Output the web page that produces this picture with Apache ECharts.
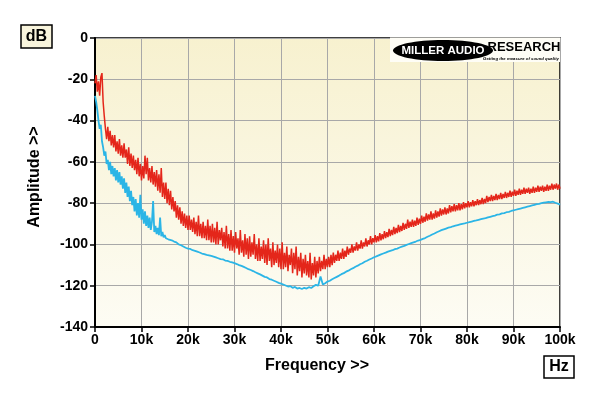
<!DOCTYPE html>
<html>
<head>
<meta charset="utf-8">
<script src="https://cdn.jsdelivr.net/npm/echarts@6/dist/echarts.min.js"></script>
<style>html,body{margin:0;padding:0;background:#fff}#c{width:600px;height:396px}</style>
</head>
<body>
<div id="c"></div>
<script>
var xTicks = ['0','10k','20k','30k','40k','50k','60k','70k','80k','90k','100k'];
var yTicks = [0,-20,-40,-60,-80,-100,-120,-140];

// red trace: 250 Hz steps from 0 Hz to 100 kHz
var redStepHz = 250;
var redValues = [
-22,-18,-26,-21,-28,-19,-17,-31,-38,
-44,-49,-43,-50, -45,-52,-47,-53, -47,-55,-50,-56, -49,-57,-52,-58,
-51,-58,-54,-61, -53,-62,-56,-63, -57,-64,-59,-66, -58,-67,-61,-69,
-62,-68,-57,-66, -58,-69,-63,-70, -62,-71,-65,-72, -64,-74,-66,-75,
-63,-77,-70,-78, -70,-80,-73,-81, -74,-83,-77,-84, -79,-87,-81,-88,
-82,-90,-84,-91, -85,-92,-86,-93, -86,-93,-88,-94, -87,-95,-89,-96,
-86,-96,-90,-97, -89,-97,-91,-98, -88,-98,-91,-99, -90,-99,-92,-100,
-89,-100,-93,-98, -92,-101,-94,-102, -91,-102,-95,-103, -93,-103,-96,-104,
-94,-102,-97,-105, -93,-104,-98,-106, -95,-105,-97,-107, -96,-106,-99,-105,
-95,-107,-100,-108, -97,-108,-101,-107, -98,-109,-100,-110, -97,-108,-102,-111,
-99,-110,-103,-109, -100,-111,-102,-112, -99,-112,-104,-111, -101,-113,-105,-110,
-102,-114,-104,-112, -101,-115,-106,-113, -104,-116,-107,-114, -105,-115,-108,-116,
-104,-117,-109,-115, -106,-116,-108,-114, -106,-113,-108,-112, -105,-112,-107,-111,
-106,-111,-105,-110, -104,-109,-105,-108, -103,-108,-104,-107, -102,-107,-103,-106,
-101,-105,-102,-104, -100,-104,-101,-103, -99,-103,-100,-102, -98,-102,-99,-101,
-97,-101,-98,-100, -96,-100,-97,-99,
-95.5,-99,-96,-98.5, -94.5,-98,-95,-97.5, -93.5,-97,-94,-96.5, -92.5,-96,-93,-95.5,
-91.5,-95,-92,-94.5, -90.5,-94,-91,-93.5, -89.5,-93,-90,-92.5, -88,-92,-89,-91.5,
-88,-91.5,-88.5,-91, -87,-90.5,-87.5,-90,
-86,-89.5,-86.5,-89, -85,-88.5,-85.5,-88, -84,-88,-85,-87.5, -83.5,-87,-84,-86.5,
-82.5,-86,-83,-85.5, -82,-85.5,-82.5,-85, -81,-84.5,-81.5,-84, -80.5,-84,-81,-83.5,
-80,-83.5,-80.5,-83, -79.5,-82.5,-80,-82,
-79,-82,-79.5,-81.5, -78.5,-81.5,-79,-81, -78,-81,-78.5,-80.5, -77.5,-80.5,-78,-80,
-76.5,-79.5,-77,-79, -76,-79,-76.5,-78.5, -75.5,-78.5,-76,-78, -75,-78,-75.5,-77.5,
-74.5,-77.5,-75,-77, -74,-77,-74.5,-76.5,
-73.5,-76.5,-74,-76, -73,-76,-73.5,-75.5, -72.5,-75.5,-73,-75, -72.5,-75.5,-73,-75,
-72,-75,-72.5,-74.5, -71.5,-74.5,-72,-74, -71.5,-74.5,-72,-74, -71,-74,-71.5,-73.5,
-70.5,-73.5,-71,-73, -70.5,-73.5,-71,-73
];

// blue trace, low part: 250 Hz steps from 0 Hz to 16 kHz
var blueLowStepHz = 250;
var blueLowValues = [
-28,-31,-35,-40,-44,-42,-50,-53,-57,-55,-61,-59,-64,-60,-66,-62,
-67,-63,-69,-64,-70,-65,-71,-67,-73,-68,-75,-70,-77,-72,-79,-74,
-81,-77,-84,-78,-86,-80,-87,-76,-88,-83,-90,-84,-91,-86,-92,-87,
-93,-89,-79,-94,-91,-95,-92,-95.5,-87,-96,-94,-96.5,-95.5,-97,-96.5,-97.5,
-97.5
];
// blue trace, high part: 500 Hz steps from 16.5 kHz to 100 kHz
var blueHighStartHz = 16500;
var blueHighStepHz = 500;
var blueHighValues = [
-98,-98.6,-99,-100,-100.4,-101,-101.6,
-102,-102.2,-102.8,-103.1,-103.5,-103.9,-104.4,-104.7,-105.1,-105.3,
-105.6,-105.9,-106.3,-106.7,-107.1,-107.2,-107.8,-108,-108.4,-108.7,
-109.1,-109.5,-110,-110.4,-110.9,-111.4,-112,-112.4,-112.9,-113.5,
-114,-114.5,-115.1,-115.7,-116,-116.8,-117.1,-117.6,-118.1,-118.6,
-119,-119.4,-119.9,-120.4,-120.2,-121,-120.6,-121.4,-121.1,-121.6,
-121,-121.4,-120.7,-121.1,-120.3,-119.6,-120,-115.5,-119.4,-118.8,
-118,-117.6,-116.9,-116.3,-115.7,-115.1,-114.4,-113.9,-113.2,-112.7,
-112,-111.5,-110.8,-110.3,-109.6,-109.1,-108.4,-107.9,-107.3,-106.8,
-106.2,-105.8,-105.3,-104.8,-104.4,-104,-103.5,-103.1,-102.8,-102.3,
-102,-101.5,-101.1,-100.7,-100.2,-99.8,-99.4,-99,-98.6,-98.1,
-97.8,-97.3,-96.9,-96.3,-95.8,-95.2,-94.7,-94.1,-93.6,-93.1,
-92.7,-92.3,-91.9,-91.6,-91.2,-90.9,-90.6,-90.3,-90,-89.8,
-89.5,-89.2,-88.9,-88.6,-88.4,-88.1,-87.8,-87.5,-87.3,-86.9,
-86.6,-86.3,-86,-85.6,-85.4,-85,-84.8,-84.4,-84.2,-83.8,
-83.5,-83.2,-82.9,-82.6,-82.3,-82,-81.7,-81.4,-81.1,-80.8,
-80.5,-80.3,-80,-79.8,-79.6,-79.4,-79.5,-79.3,-79.8,-80.2,
-80.8
];

function pairs(vals, start, step){ return vals.map(function(v,i){ return [start + i*step, v]; }); }
var redData = pairs(redValues, 0, redStepHz);
var blueData = pairs(blueLowValues, 0, blueLowStepHz).concat(pairs(blueHighValues, blueHighStartHz, blueHighStepHz));

var chart = echarts.init(document.getElementById('c'), null, {renderer:'canvas'});
var F = 'Liberation Sans, Arial, sans-serif';
chart.setOption({
  animation:false,
  backgroundColor:'#ffffff',
  grid:{left:95,right:40,top:38,bottom:69,show:true,borderColor:'#000',borderWidth:1.5,
    backgroundColor:new echarts.graphic.LinearGradient(0,0,0,1,[{offset:0,color:'#f7f1cf'},{offset:1,color:'#fdfcf4'}])},
  xAxis:{type:'value',min:0,max:100000,interval:10000,
    axisLine:{show:true,onZero:false,lineStyle:{color:'#000',width:2}},
    axisTick:{show:true,length:5,lineStyle:{color:'#000',width:1.5}},
    splitLine:{show:true,lineStyle:{color:'#a8a8a8',width:1}},
    axisLabel:{margin:6,color:'#000',fontFamily:F,fontWeight:'bold',fontSize:14,
      formatter:function(v){ return xTicks[Math.round(v/10000)]; }}},
  yAxis:{type:'value',min:-140,max:0,interval:20,
    axisLine:{show:true,onZero:false,lineStyle:{color:'#000',width:2}},
    axisTick:{show:true,length:5,lineStyle:{color:'#000',width:1.5}},
    splitLine:{show:true,lineStyle:{color:'#a8a8a8',width:1}},
    axisLabel:{margin:7,color:'#000',fontFamily:F,fontWeight:'bold',fontSize:14,
      formatter:function(v){ return yTicks.indexOf(v)>=0 ? String(v) : ''; }}},
  series:[
    {type:'line',data:redData,showSymbol:false,symbol:'none',
      lineStyle:{color:'#e4261a',width:1.5},z:3},
    {type:'line',data:blueData,showSymbol:false,symbol:'none',
      lineStyle:{color:'#2bb5e6',width:1.8},z:4}
  ],
  graphic:[
    {type:'text',z:20,style:{text:'Frequency >>',x:317,y:366,textAlign:'center',textVerticalAlign:'middle',
      font:'bold 16px '+F,fill:'#000'}},
    {type:'text',z:20,rotation:Math.PI/2,x:35,y:177,style:{text:'Amplitude >>',x:0,y:0,textAlign:'center',textVerticalAlign:'middle',
      font:'bold 16px '+F,fill:'#000'}},
    {type:'rect',z:20,shape:{x:21,y:25,width:31,height:23},style:{fill:'#f8f4dc',stroke:'#000',lineWidth:1.5}},
    {type:'text',z:21,style:{text:'dB',x:36.5,y:37,textAlign:'center',textVerticalAlign:'middle',font:'bold 16px '+F,fill:'#000'}},
    {type:'rect',z:20,shape:{x:544,y:356,width:30,height:22},style:{fill:'#ffffff',stroke:'#000',lineWidth:1.5}},
    {type:'text',z:21,style:{text:'Hz',x:559,y:367,textAlign:'center',textVerticalAlign:'middle',font:'bold 16px '+F,fill:'#000'}},
    {type:'rect',z:20,shape:{x:390,y:37.5,width:170,height:24.5},style:{fill:'#fefdf6'}},
    {type:'ellipse',z:21,shape:{cx:443,cy:50.5,rx:50,ry:10.5},style:{fill:'#000'}},
    {type:'text',z:22,style:{text:'MILLER AUDIO',x:443,y:50.5,textAlign:'center',textVerticalAlign:'middle',font:'900 11.5px '+F,fill:'#fff'}},
    {type:'text',z:22,style:{text:'RESEARCH',x:524,y:47,textAlign:'center',textVerticalAlign:'middle',font:'900 13px '+F,fill:'#000'}},
    {type:'text',z:22,style:{text:'Getting the measure of sound quality',x:521,y:58.5,textAlign:'center',textVerticalAlign:'middle',font:'italic bold 4.3px '+F,fill:'#000'}}
  ]
});
</script>
</body>
</html>
